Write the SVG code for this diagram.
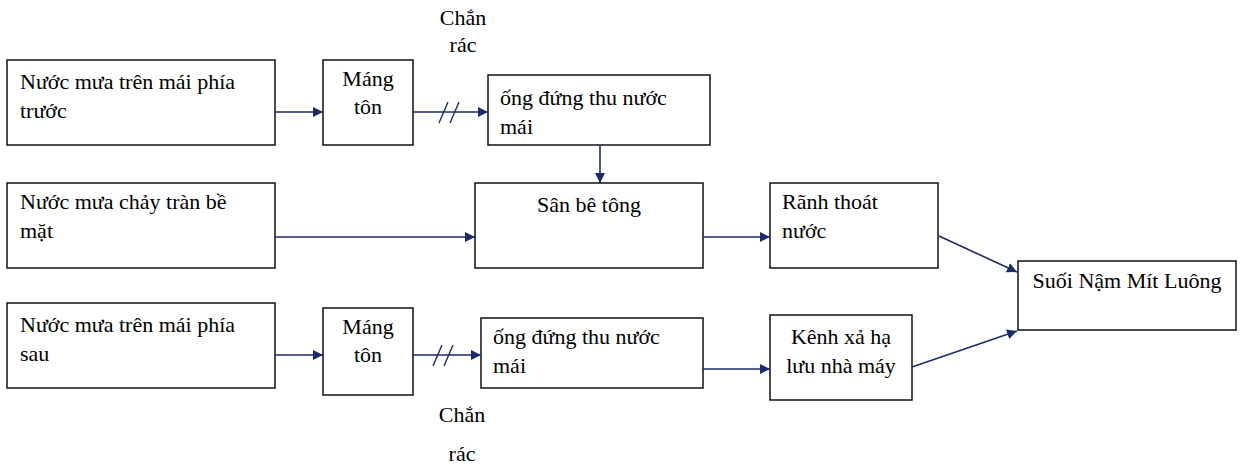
<svg xmlns="http://www.w3.org/2000/svg" width="1242" height="466" viewBox="0 0 1242 466">
  <style>
    .box { fill: #ffffff; stroke: #111111; stroke-width: 1.5; }
    .t { font-family: "Liberation Serif", "Times New Roman", serif; font-size: 22px; fill: #000000; }
    .c { text-anchor: middle; }
    .link { fill: none; stroke: #1b2a68; stroke-width: 1.6; }
    .slash { fill: none; stroke: #1b2a68; stroke-width: 1.4; }
  </style>
  <defs>
    <marker id="arrow" viewBox="0 0 10 10" refX="10" refY="5" markerWidth="10" markerHeight="10" markerUnits="userSpaceOnUse" orient="auto">
      <path d="M0,0 L10,5 L0,10 z" fill="#1b2a68"/>
    </marker>
  </defs>
  <rect width="1242" height="466" fill="#ffffff"/>

  <!-- row 1: front roof -->
  <g id="front-roof">
    <rect class="box" x="7" y="60" width="268" height="85"/>
    <text class="t" x="20" y="89">Nước mưa trên mái phía</text>
    <text class="t" x="20" y="118">trước</text>
  </g>
  <g id="gutter-front">
    <rect class="box" x="323" y="60" width="90" height="85"/>
    <text class="t c" x="368" y="86">Máng</text>
    <text class="t c" x="368" y="114">tôn</text>
  </g>
  <g id="downpipe-front">
    <rect class="box" x="488" y="75" width="222" height="70"/>
    <text class="t" x="500" y="105">ống đứng thu nước</text>
    <text class="t" x="500" y="134">mái</text>
  </g>
  <g id="screen-front">
    <text class="t c" x="463" y="25">Chắn</text>
    <text class="t c" x="463" y="52">rác</text>
  </g>

  <!-- row 2: surface runoff -->
  <g id="surface-runoff">
    <rect class="box" x="7" y="183" width="268" height="85"/>
    <text class="t" x="20" y="209">Nước mưa chảy tràn bề</text>
    <text class="t" x="20" y="238">mặt</text>
  </g>
  <g id="concrete-yard">
    <rect class="box" x="475" y="183" width="228" height="85"/>
    <text class="t c" x="589" y="212">Sân bê tông</text>
  </g>
  <g id="drain-ditch">
    <rect class="box" x="770" y="183" width="168" height="85"/>
    <text class="t" x="782" y="209">Rãnh thoát</text>
    <text class="t" x="782" y="238">nước</text>
  </g>
  <g id="stream">
    <rect class="box" x="1018" y="261" width="218" height="69"/>
    <text class="t c" x="1127" y="288">Suối Nậm Mít Luông</text>
  </g>

  <!-- row 3: rear roof -->
  <g id="rear-roof">
    <rect class="box" x="7" y="303" width="268" height="85"/>
    <text class="t" x="20" y="332">Nước mưa trên mái phía</text>
    <text class="t" x="20" y="361">sau</text>
  </g>
  <g id="gutter-rear">
    <rect class="box" x="323" y="308" width="90" height="87"/>
    <text class="t c" x="368" y="334">Máng</text>
    <text class="t c" x="368" y="362">tôn</text>
  </g>
  <g id="downpipe-rear">
    <rect class="box" x="481" y="318" width="222" height="70"/>
    <text class="t" x="493" y="344">ống đứng thu nước</text>
    <text class="t" x="493" y="373">mái</text>
  </g>
  <g id="discharge-channel">
    <rect class="box" x="770" y="315" width="142" height="85"/>
    <text class="t c" x="841" y="344">Kênh xả hạ</text>
    <text class="t c" x="841" y="373">lưu nhà máy</text>
  </g>
  <g id="screen-rear">
    <text class="t c" x="462" y="422">Chắn</text>
    <text class="t c" x="462" y="461">rác</text>
  </g>

  <!-- connectors -->
  <g id="connectors">
    <line class="link" x1="275" y1="112" x2="323" y2="112" marker-end="url(#arrow)"/>
    <line class="link" x1="413" y1="112" x2="488" y2="112" marker-end="url(#arrow)"/>
    <line class="slash" x1="439" y1="123" x2="448" y2="102"/>
    <line class="slash" x1="450" y1="123" x2="459" y2="102"/>
    <line class="link" x1="600" y1="145" x2="600" y2="183" marker-end="url(#arrow)"/>
    <line class="link" x1="275" y1="237" x2="475" y2="237" marker-end="url(#arrow)"/>
    <line class="link" x1="703" y1="237" x2="770" y2="237" marker-end="url(#arrow)"/>
    <line class="link" x1="939" y1="236" x2="1017" y2="272" marker-end="url(#arrow)"/>
    <line class="link" x1="275" y1="355" x2="323" y2="355" marker-end="url(#arrow)"/>
    <line class="link" x1="413" y1="355" x2="481" y2="355" marker-end="url(#arrow)"/>
    <line class="slash" x1="433" y1="366" x2="442" y2="345"/>
    <line class="slash" x1="444" y1="366" x2="453" y2="345"/>
    <line class="link" x1="703" y1="369" x2="770" y2="369" marker-end="url(#arrow)"/>
    <line class="link" x1="912" y1="367" x2="1017" y2="331" marker-end="url(#arrow)"/>
  </g>
</svg>
